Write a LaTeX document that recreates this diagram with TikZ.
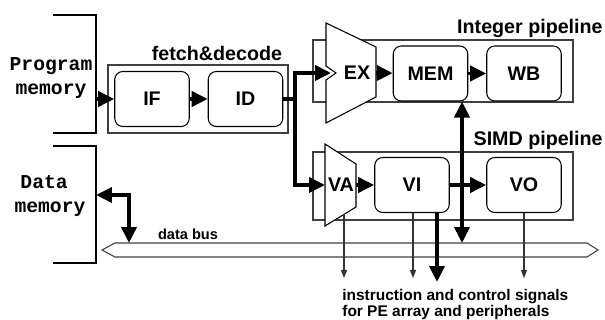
\documentclass[tikz,border=0pt]{standalone}
\usepackage{fontspec}
\setmainfont{Liberation Sans}
\newfontfamily\memfont{Liberation Mono}
\usetikzlibrary{arrows.meta,fit}

\begin{document}
\begin{tikzpicture}[x=0.02cm, y=-0.02cm,
		stage/.style={draw, fill=white, rounded corners=0.16cm, line width=0.6pt, minimum width=1.49cm, minimum height=1.1cm, inner sep=0pt, font=\fontsize{11.2}{13}\selectfont\bfseries},
		group/.style={draw=black!75, line width=0.6pt, inner sep=0pt},
		title/.style={inner sep=0pt, font=\fontsize{11.2}{13}\selectfont\bfseries},
		memlbl/.style={inner sep=0pt, align=center, font=\fontsize{11.2}{13.6}\selectfont\memfont\bfseries},
		unit/.style={draw, fill=white, line width=0.6pt},
		fat/.style={line width=2.1pt, -{Triangle[length=0.32cm, width=0.3cm]}},
		both/.style={line width=2.1pt, {Triangle[length=0.32cm, width=0.3cm]}-{Triangle[length=0.32cm, width=0.3cm]}},
		sig/.style={line width=0.6pt, black!80, -{Triangle[length=0.16cm, width=0.12cm]}}]
		\useasboundingbox (0,0) rectangle (605,320);
		
		% memories
		\draw[line width=0.6pt] (53,15) -| (96,133) -- (53,133);
		\node[memlbl] (pmemlbl) at (51,78) {Program\\memory};
		\coordinate (pmem) at (96,99);
		
		\draw[line width=0.6pt] (53,146) -| (96,263) -- (53,263);
		\node[memlbl] (dmemlbl) at (50,196) {Data\hphantom{x}\\memory};
		\coordinate (dmem) at (96,195);
		
		% groups
		\node[group, fit={(108,65) (288,133)}] (fetch) {};
		\node[title] (fetchlbl) at (217,53) {fetch\&decode};
		\node[group, fit={(313,40) (573,102)}] (intpipe) {};
		\node[title, anchor=east] (intlbl) at (603,28) {Integer pipeline};
		\node[group, fit={(313,152) (573,220)}] (simdpipe) {};
		\node[title, anchor=east] (simdlbl) at (603,140) {SIMD pipeline};
		
		% data bus
		\draw[draw=black!75, line width=0.6pt] (102,250) -- (115,243) -- (587,243) -- (598,250) -- (587,257) -- (115,257) -- cycle;
		\node[inner sep=0pt, font=\fontsize{8.3}{10}\selectfont\bfseries] (buslbl) at (188,234) {data bus};
		\coordinate (dbus) at (129,243);
		\coordinate (mbus) at (462,243);
		
		% stages
		\node[stage] (IF) at (152,99) {IF};
		\node[stage] (ID) at (245.5,99) {ID};
		\node[stage] (MEM) at (430.5,73.5) {MEM};
		\node[stage] (WB) at (524,73.5) {WB};
		\node[stage] (VI) at (412,185) {VI};
		\node[stage] (VO) at (524,185) {VO};
		
		\draw[unit] (326,23) -- (376,47) -- (376,97) -- (326,123) -- (326,80) -- (336,73) -- (326,66) -- cycle;
		\node[title] (EX) at (357,73) {EX};
		\coordinate (EXin) at (331,73);
		\coordinate (EXout) at (376,73);
		
		\draw[unit] (325,144) -- (356,164) -- (356,207) -- (325,226) -- cycle;
		\node[title] (VA) at (341,185) {VA};
		\coordinate (VAin) at (325,185);
		\coordinate (VAout) at (356,185);
		\coordinate (VAbot) at (344,214);
		
		% pipeline flow
		\coordinate (split) at (295,99);
		\draw[fat] (pmem) -- (IF);
		\draw[fat] (IF) -- (ID);
		\draw[fat] (ID) -- (split) |- (EXin);
		\draw[fat] (split) |- (VAin);
		\draw[fat] (EXout) -- (MEM);
		\draw[fat] (MEM) -- (WB);
		\draw[fat] (VAout) -- (VI);
		\draw[fat] (VI) -- (VO);
		
		% bus access
		\draw[both] (dmem) -| (dbus);
		\draw[both] (mbus) -- (mbus |- MEM.south);
		
		% control signals
		\coordinate (outVA) at (344,278);
		\coordinate (outVI) at (413,278);
		\coordinate (outPE) at (437,282);
		\coordinate (outVO) at (524,278);
		\draw[sig] (VAbot) -- (outVA);
		\draw[sig] (outVI |- VI.south) -- (outVI);
		\draw[fat] (outPE |- VI.south) -- (outPE);
		\draw[sig] (VO.south) -- (outVO);
		\node[anchor=north west, inner sep=0pt, align=left, font=\fontsize{8.8}{9.1}\selectfont\bfseries] (siglbl) at (342,289) {instruction and control signals\\for PE array and peripherals};
	\end{tikzpicture}
\end{document}
